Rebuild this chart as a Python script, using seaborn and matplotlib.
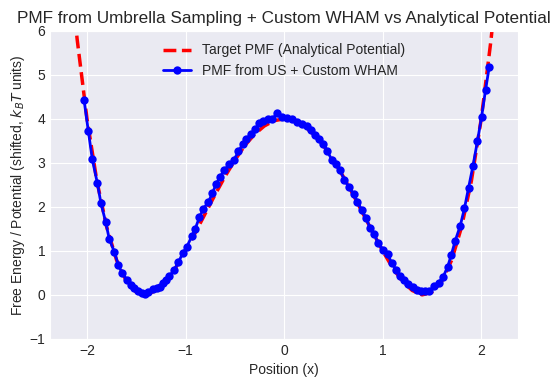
#### PMF from umbrella sampling vs analytical double-well ####

import numpy as np
import pandas as pd
import matplotlib
matplotlib.use('Agg')
import matplotlib.pyplot as plt
import seaborn as sns

sns.set_style('darkgrid')
plt.rcParams['font.family'] = ['Liberation Sans', 'DejaVu Sans']
plt.rcParams['xtick.major.size'] = 0
plt.rcParams['ytick.major.size'] = 0

# Analytical potential
x_target = [-2.2, -2.1, -2.0, -1.9, -1.8, -1.7, -1.6, -1.5, -1.4, -1.3, -1.2, -1.1,
            -1.0, -0.9, -0.8, -0.7, -0.6, -0.5, -0.4, -0.3, -0.2, -0.1, 0.0,
            0.1, 0.2, 0.3, 0.4, 0.5, 0.6, 0.7, 0.8, 0.9, 1.0, 1.1, 1.2, 1.3,
            1.4, 1.5, 1.6, 1.7, 1.8, 1.9, 2.0, 2.1, 2.2]
v_target = [8.07, 5.81, 4.00, 2.59, 1.54, 0.79, 0.31, 0.06, 0.00, 0.10, 0.31, 0.62,
            1.00, 1.42, 1.85, 2.28, 2.69, 3.06, 3.39, 3.65, 3.84, 3.96, 4.00,
            3.96, 3.84, 3.65, 3.39, 3.06, 2.69, 2.28, 1.85, 1.42, 1.00, 0.62, 0.31, 0.10,
            0.00, 0.06, 0.31, 0.79, 1.54, 2.59, 4.00, 5.81, 8.07]

# PMF estimated from US + custom WHAM (blue markers)
x_wham = [-2.030, -1.987, -1.946, -1.895, -1.858, -1.810, -1.774, -1.723, -1.682, -1.642,
          -1.591, -1.556, -1.523, -1.479, -1.445, -1.411, -1.378, -1.333, -1.292, -1.259,
          -1.225, -1.198, -1.164, -1.114, -1.073, -1.028, -0.988, -0.937, -0.904, -0.860,
          -0.819, -0.769, -0.728, -0.690, -0.650, -0.606, -0.555, -0.508, -0.464, -0.419,
          -0.386, -0.338, -0.294, -0.251, -0.210, -0.159, -0.119, -0.074, -0.023, 0.027,
          0.078, 0.129, 0.180, 0.230, 0.274, 0.315, 0.358, 0.399, 0.440, 0.484,
          0.528, 0.569, 0.612, 0.660, 0.704, 0.744, 0.789, 0.832, 0.873, 0.917,
          0.951, 1.008, 1.049, 1.093, 1.137, 1.178, 1.221, 1.262, 1.307, 1.347,
          1.388, 1.431, 1.475, 1.523, 1.567, 1.611, 1.658, 1.695, 1.736, 1.787,
          1.830, 1.871, 1.916, 1.962, 2.003, 2.044, 2.081]
f_wham = [4.43, 3.73, 3.08, 2.54, 2.08, 1.65, 1.27, 0.98, 0.68, 0.49,
          0.33, 0.22, 0.15, 0.09, 0.04, 0.02, 0.06, 0.13, 0.16, 0.19,
          0.27, 0.33, 0.43, 0.57, 0.74, 0.95, 1.09, 1.33, 1.49, 1.76,
          1.96, 2.11, 2.31, 2.52, 2.68, 2.84, 2.97, 3.07, 3.26, 3.43,
          3.54, 3.65, 3.77, 3.90, 3.96, 3.99, 3.99, 4.13, 4.05, 4.02,
          3.99, 3.93, 3.89, 3.83, 3.75, 3.64, 3.54, 3.43, 3.26, 3.07,
          2.97, 2.83, 2.61, 2.45, 2.29, 2.12, 1.92, 1.74, 1.52, 1.38,
          1.18, 1.02, 0.93, 0.72, 0.57, 0.43, 0.33, 0.25, 0.18, 0.11,
          0.10, 0.09, 0.09, 0.21, 0.28, 0.40, 0.63, 0.90, 1.23, 1.57,
          1.97, 2.43, 2.93, 3.50, 4.04, 4.66, 5.18]

target = pd.DataFrame({'x': x_target, 'v': v_target})
wham = pd.DataFrame({'x': x_wham, 'f': f_wham})

fig, ax = plt.subplots(figsize=(5.56, 3.86), dpi=100)
fig.subplots_adjust(left=0.09, right=0.932, top=0.92, bottom=0.122)

sns.lineplot(data=target, x='x', y='v', ax=ax, color='red', linestyle='--',
             linewidth=2.5, sort=False, label='Target PMF (Analytical Potential)')
sns.lineplot(data=wham, x='x', y='f', ax=ax, color='blue', linewidth=2,
             marker='o', markersize=6, markeredgecolor='blue', markeredgewidth=0,
             sort=False, label='PMF from US + Custom WHAM')

ax.set_xlim(-2.375, 2.375)
ax.set_ylim(-1, 6)
ax.set_title('PMF from Umbrella Sampling + Custom WHAM vs Analytical Potential', fontsize=12.3)
ax.set_xlabel('Position (x)', fontsize=10)
ax.set_ylabel('Free Energy / Potential (shifted, $k_B T$ units)', fontsize=10, labelpad=2)
ax.tick_params(labelsize=10)
ax.legend(loc='upper center', fontsize=10, frameon=False)

fig.savefig('out.png', dpi=100)
